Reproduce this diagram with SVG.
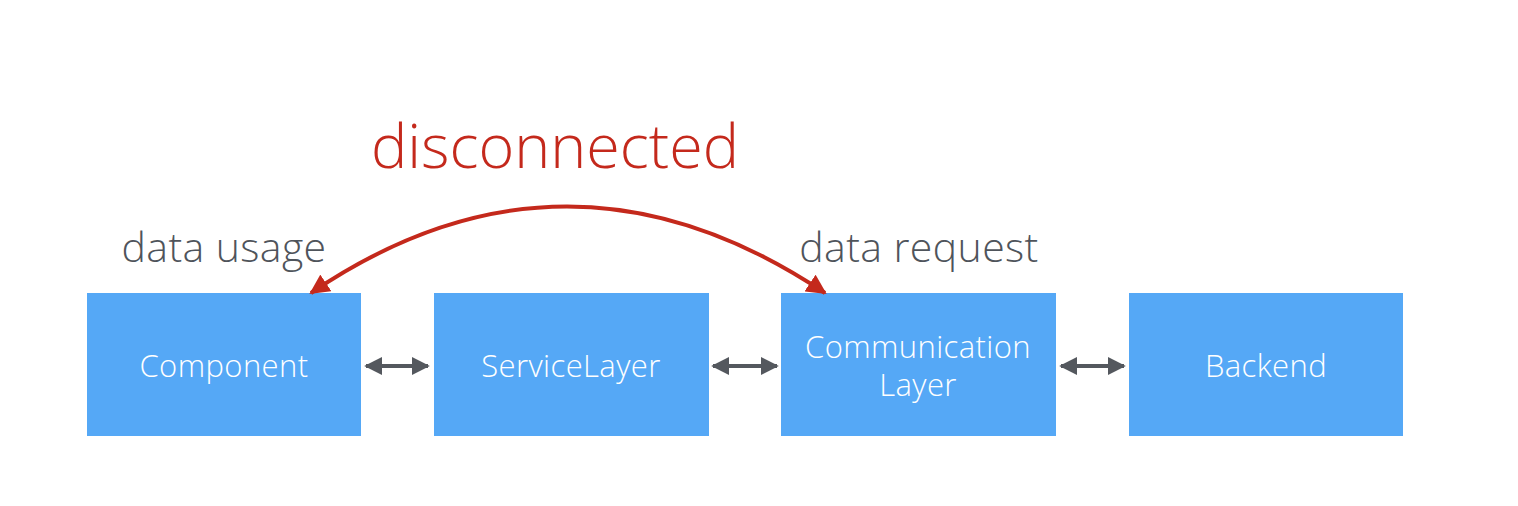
<svg xmlns="http://www.w3.org/2000/svg" width="1518" height="506" viewBox="0 0 1518 506">
<style>
.box{fill:#55a8f6}
.bt{font-family:"Open Sans","Liberation Sans",sans-serif;font-weight:300;font-size:31px;letter-spacing:0.4px;fill:#ffffff;text-anchor:middle}
.lbl{font-family:"Open Sans","Liberation Sans",sans-serif;font-weight:300;font-size:41px;letter-spacing:0.4px;fill:#4f545b;text-anchor:middle}
.title{font-family:"Open Sans","Liberation Sans",sans-serif;font-weight:300;font-size:61px;fill:#c4291c;text-anchor:middle}
.dbl{stroke:#54585e;stroke-width:4;fill:none}
</style>
<defs>
<marker id="ga" viewBox="0 0 10 10" refX="9" refY="5" markerWidth="4.5" markerHeight="4.5" orient="auto-start-reverse" markerUnits="strokeWidth"><path d="M0,0 L10,5 L0,10 Z" fill="#54585e"/></marker>
<marker id="ra" viewBox="0 0 10 10" refX="9" refY="5" markerWidth="5" markerHeight="5" orient="auto-start-reverse" markerUnits="strokeWidth"><path d="M0,0 L10,5 L0,10 Z" fill="#c4291c"/></marker>
</defs>
<text class="title" x="555" y="168">disconnected</text>
<text class="lbl" x="224" y="262">data usage</text>
<text class="lbl" x="919" y="262">data request</text>
<g id="component"><rect class="box" x="87" y="293" width="274" height="143"/><text class="bt" x="224" y="377">Component</text></g>
<g id="servicelayer"><rect class="box" x="434" y="293" width="275" height="143"/><text class="bt" x="571" y="377">ServiceLayer</text></g>
<g id="communicationlayer"><rect class="box" x="781" y="293" width="275" height="143"/><text class="bt" x="918" y="358">Communication</text><text class="bt" x="918" y="396">Layer</text></g>
<g id="backend"><rect class="box" x="1129" y="293" width="274" height="143"/><text class="bt" x="1266" y="377">Backend</text></g>
<g id="connectors">
<path class="dbl" d="M366,366 L428,366" marker-start="url(#ga)" marker-end="url(#ga)"/>
<path class="dbl" d="M713,366 L777,366" marker-start="url(#ga)" marker-end="url(#ga)"/>
<path class="dbl" d="M1061,366 L1124,366" marker-start="url(#ga)" marker-end="url(#ga)"/>
<path d="M311,293 Q566,120 825,293" stroke="#c4291c" stroke-width="4" fill="none" marker-start="url(#ra)" marker-end="url(#ra)"/>
</g>
</svg>
